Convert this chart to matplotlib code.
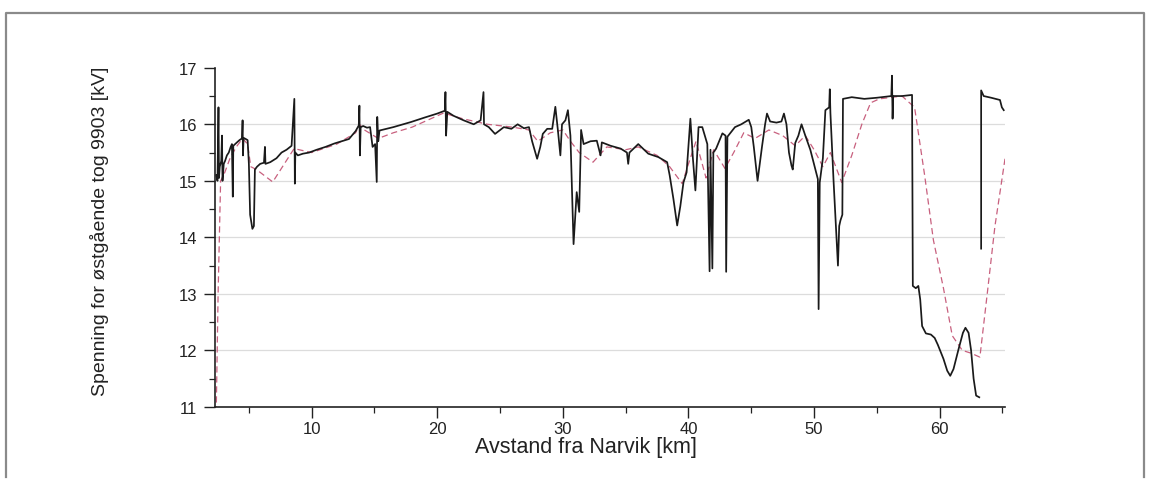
import numpy as np
import matplotlib
matplotlib.use("Agg")
import matplotlib.pyplot as plt
from matplotlib.lines import Line2D
from matplotlib.ticker import MultipleLocator

# measured voltage along the line (black trace)
meas_km = [2.40, 2.50, 2.58, 2.62, 2.68, 2.80, 2.86, 2.90, 3.00, 3.10, 3.25, 3.40, 3.55, 3.65, 3.72, 3.76,
           3.90, 4.05, 4.25, 4.45, 4.50, 4.53, 4.58, 4.75, 4.90, 5.00, 5.10, 5.28, 5.40, 5.48, 5.65, 5.90,
           6.20, 6.28, 6.32, 6.70, 7.20, 7.60, 8.00, 8.40, 8.62, 8.66, 8.70, 8.90, 9.30, 9.80, 10.40, 11.10,
           11.80, 12.40, 12.97, 13.50, 13.75, 13.80, 13.84, 13.90, 14.10, 14.40, 14.65, 14.85, 15.05, 15.18,
           15.22, 15.30, 15.40, 16.50, 17.90, 19.00, 20.00, 20.60, 20.65, 20.70, 20.80, 21.30, 22.10, 22.90,
           23.45, 23.68, 23.72, 24.10, 24.60, 25.30, 25.90, 26.40, 26.90, 27.30, 27.55, 27.95, 28.20, 28.40,
           28.75, 29.15, 29.40, 29.60, 29.80, 29.93, 30.20, 30.40, 30.60, 30.85, 31.10, 31.30, 31.45, 31.65,
           32.20, 32.70, 33.00, 33.10, 33.80, 34.60, 35.10, 35.20, 35.30, 36.00, 36.80, 37.60, 38.30, 38.50,
           38.80, 39.10, 39.35, 39.60, 39.85, 40.15, 40.35, 40.55, 40.80, 41.10, 41.50, 41.68, 41.75, 41.90,
           41.98, 42.20, 42.70, 42.95, 43.00, 43.10, 43.70, 44.20, 44.80, 45.00, 45.20, 45.50, 45.85, 46.10,
           46.25, 46.50, 47.00, 47.40, 47.60, 47.80, 48.00, 48.20, 48.30, 48.50, 48.75, 49.00, 49.30, 49.70,
           50.10, 50.30, 50.36, 50.45, 50.70, 50.90, 51.20, 51.25, 51.30, 51.55, 51.90, 52.00, 52.10, 52.25,
           52.30, 53.00, 54.00, 55.00, 56.15, 56.20, 56.25, 56.30, 57.00, 57.80, 57.86, 58.10, 58.30, 58.45,
           58.60, 58.90, 59.30, 59.60, 59.85, 60.30, 60.60, 60.84, 61.10, 61.50, 61.85, 62.05, 62.30, 62.50,
           62.70, 62.90, 63.15, np.nan, 63.30, 63.30, 63.50, 64.10, 64.80, 64.95, 65.10]
meas_kv = [15.10, 15.00, 16.30, 15.05, 15.25, 15.35, 15.80, 15.00, 15.30, 15.35, 15.45, 15.50, 15.60, 15.65, 14.72, 15.62,
           15.65, 15.68, 15.72, 15.75, 16.07, 15.45, 15.76, 15.74, 15.72, 15.30, 14.40, 14.15, 14.20, 15.20, 15.25, 15.30,
           15.32, 15.60, 15.30, 15.33, 15.40, 15.50, 15.55, 15.62, 16.45, 14.95, 15.50, 15.45, 15.48, 15.50, 15.55, 15.60,
           15.66, 15.70, 15.74, 15.88, 15.98, 16.33, 15.45, 15.95, 15.97, 15.94, 15.95, 15.60, 15.65, 14.98,
           16.13, 15.70, 15.89, 15.95, 16.04, 16.12, 16.19, 16.24, 16.57, 15.80, 16.22, 16.15, 16.07, 16.00,
           16.07, 16.57, 16.00, 15.95, 15.83, 15.95, 15.92, 16.00, 15.93, 15.95, 15.70, 15.39, 15.60, 15.83,
           15.92, 15.92, 16.31, 15.90, 15.45, 16.00, 16.07, 16.25, 15.80, 13.88, 14.80, 14.45, 15.90, 15.65,
           15.70, 15.71, 15.45, 15.68, 15.62, 15.57, 15.50, 15.30, 15.50, 15.65, 15.48, 15.42, 15.33, 15.10,
           14.68, 14.21, 14.55, 14.97, 15.15, 16.10, 15.40, 14.83, 15.95, 15.95, 15.65, 13.40, 15.55, 13.45,
           15.50, 15.57, 15.84, 15.80, 13.39, 15.78, 15.95, 16.00, 16.08, 15.95, 15.60, 15.00, 15.60, 16.00,
           16.19, 16.05, 16.03, 16.05, 16.19, 16.00, 15.50, 15.27, 15.20, 15.67, 15.80, 16.00, 15.80, 15.55,
           15.20, 15.03, 12.73, 14.97, 15.40, 16.25, 16.30, 16.62, 16.20, 15.00, 13.50, 14.20, 14.30, 14.40,
           16.45, 16.48, 16.45, 16.47, 16.50, 16.86, 16.10, 16.50, 16.50, 16.52, 13.14, 13.10, 13.14, 12.90,
           12.43, 12.30, 12.28, 12.22, 12.10, 11.85, 11.64, 11.55, 11.67, 12.02, 12.31, 12.40, 12.31, 12.00,
           11.50, 11.20, 11.17, np.nan, 13.80, 16.60, 16.50, 16.47, 16.43, 16.30, 16.25]

# calculated voltage (red dashed trace)
sim_km = [2.40, 2.55, 2.75, 3.00, 3.50, 4.00, 4.50, 4.90, 5.15, 5.60, 6.90, 8.60, 10.00, 12.00, 13.50, 13.80,
          14.20, 15.30, 16.50, 18.00, 20.50, 22.00, 24.00, 26.00, 27.30, 28.00, 29.00, 30.00, 30.60, 31.30,
          32.40, 33.50, 35.00, 36.00, 37.50, 38.50, 39.50, 40.00, 40.60, 41.40, 42.00, 42.90, 43.60, 44.40,
          45.30, 46.40, 47.50, 48.50, 49.30, 50.00, 50.70, 51.30, 52.20, 53.00, 53.80, 54.50, 55.20, 57.00,
          58.00, 58.80, 59.50, 60.30, 61.00, 61.80, 62.50, 63.20, 63.80, 64.40, 65.20]
sim_kv = [10.90, 13.00, 15.00, 15.10, 15.40, 15.60, 15.75, 15.65, 15.25, 15.20, 14.98, 15.57, 15.50, 15.65, 15.85, 16.00,
          15.90, 15.75, 15.85, 15.95, 16.20, 16.10, 16.00, 15.95, 15.90, 15.70, 15.85, 15.90, 15.70, 15.50,
          15.33, 15.60, 15.55, 15.60, 15.45, 15.25, 14.95, 15.30, 15.70, 15.05, 15.55, 15.22, 15.50, 15.85,
          15.75, 15.90, 15.80, 15.62, 15.80, 15.55, 15.25, 15.50, 14.97, 15.45, 16.00, 16.38, 16.45, 16.50,
          16.30, 15.10, 13.95, 13.10, 12.26, 12.00, 11.95, 11.88, 13.03, 14.20, 15.39]

y_ticks = [11, 12, 13, 14, 15, 16, 17]
x_ticks = [10, 20, 30, 40, 50, 60]

plt.rcParams['font.family'] = ['Liberation Sans', 'DejaVu Sans']

fig = plt.figure(figsize=(11.52, 4.81), dpi=100)
ax = fig.add_axes([0.1866, 0.152, 0.6858, 0.705])

# light horizontal guide lines
for v in y_ticks[1:-1]:
    ax.axhline(v, color='#dcdcdc', lw=0.9, zorder=0)

ax.plot(sim_km, sim_kv, color='#c8607e', lw=0.9, dashes=(5, 3), zorder=2)
ax.plot(meas_km, meas_kv, color='#1a1a1a', lw=1.25, zorder=3)

ax.set_xlim(2.3, 65.2)
ax.set_ylim(11, 17)
ax.set_xticks(x_ticks)
ax.set_yticks(y_ticks)
ax.xaxis.set_minor_locator(MultipleLocator(5))
ax.yaxis.set_minor_locator(MultipleLocator(0.5))
ax.tick_params(which='major', direction='out', length=8, width=1.0, labelsize=12, colors='#222222')
ax.tick_params(which='minor', direction='out', length=4, width=0.9, colors='#222222')
ax.tick_params(axis='x', which='major', pad=2)
ax.tick_params(axis='y', which='major', pad=5)
for s in ('top', 'right'):
    ax.spines[s].set_visible(False)
for s in ('left', 'bottom'):
    ax.spines[s].set_linewidth(1.2)
    ax.spines[s].set_color('#222222')

ax.set_xlabel('Avstand fra Narvik [km]', fontsize=15.5, color='#222222')
ax.xaxis.set_label_coords(0.469, -0.086)
ax.set_ylabel('Spenning for østgående tog 9903 [kV]', fontsize=14, color='#222222',
              family=['Liberation Sans Narrow', 'Liberation Sans', 'DejaVu Sans'])
ax.yaxis.set_label_coords(-0.134, 0.52)

# outer border around the figure
bx = [6 / 1152, 6 / 1152, 1144 / 1152, 1144 / 1152]
by = [1 - 478 / 481, 1 - 14 / 481, 1 - 14 / 481, 1 - 478 / 481]
fig.add_artist(Line2D(bx, by, transform=fig.transFigure, color='#8a8a8a', lw=1.6))

fig.savefig('out.png', dpi=100)
